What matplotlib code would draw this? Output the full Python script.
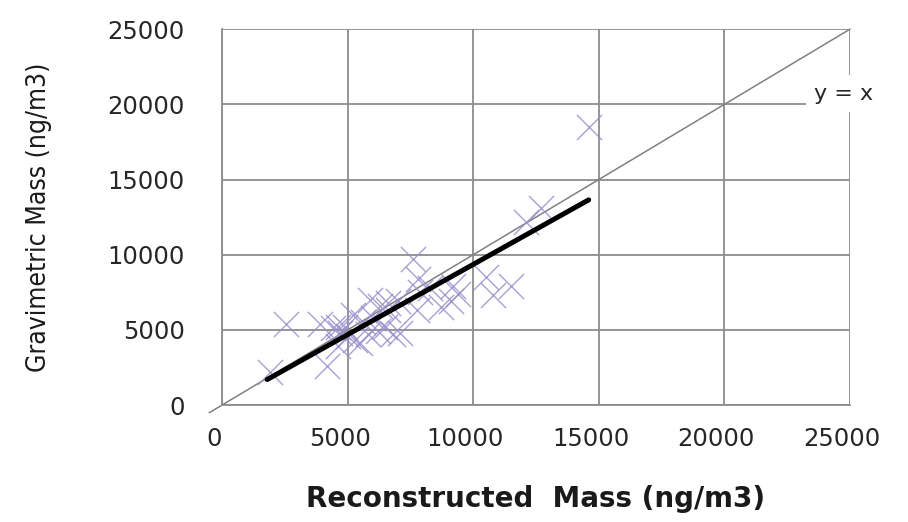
import numpy as np
import matplotlib
matplotlib.use("Agg")
import matplotlib.pyplot as plt
import matplotlib.transforms as mtransforms

# reconstructed vs gravimetric mass, ng/m3
recon = [1900, 2550, 4200, 3900, 4400, 4600, 4700, 4900, 5000, 5300, 5500,
         5800, 6200, 6000, 6300, 6600, 6800, 7000, 5600, 4600, 6500, 5900,
         6600, 7100, 7750, 7600, 7800, 7900, 8700, 9100, 9400, 8300, 10800,
         11500, 10500, 9200, 12100, 12700, 14600, 5200]
grav = [2200, 5400, 2600, 5400, 5100, 5200, 4800, 5200, 4600, 4300, 4100,
        4700, 4900, 5800, 6600, 6300, 4700, 6900, 5500, 3900, 5200, 7000,
        6800, 4800, 6300, 9700, 8400, 7500, 6500, 6900, 7400, 7800, 7300,
        7900, 8500, 7900, 12200, 13100, 18500, 6000]

# regression line end points
fit_x = [1800, 14600]
fit_y = [1700, 13650]

ticks = [0, 5000, 10000, 15000, 20000, 25000]

fig = plt.figure(figsize=(9.08, 5.22), dpi=100)
ax = fig.add_axes([0.2445, 0.224, 0.6915, 0.72])

ax.set_xlim(0, 25000)
ax.set_ylim(0, 25000)
ax.set_xticks(ticks)
ax.set_yticks(ticks)
ax.grid(True, color="#8c8c8c", linewidth=1.3)
ax.set_axisbelow(True)
for side in ["top", "right"]:
    ax.spines[side].set_visible(False)
for side in ["left", "bottom"]:
    ax.spines[side].set_color("#8c8c8c")
    ax.spines[side].set_linewidth(1.3)
ax.tick_params(length=0, labelsize=17.5, colors="#262626")
ax.tick_params(axis="x", pad=16)
ax.tick_params(axis="y", pad=27)

# x tick labels sit a bit left of their gridlines in the original
shift = mtransforms.ScaledTranslation(-8 / 100, 0, fig.dpi_scale_trans)
for lab in ax.get_xticklabels():
    lab.set_transform(lab.get_transform() + shift)

# 1:1 line
ax.plot([-500, 25000], [-500, 25000], color="#808080", linewidth=1.1,
        clip_on=False, zorder=2)
ax.text(24750, 20700, "y = x", fontsize=16, color="#262626",
        ha="center", va="center", zorder=5,
        bbox=dict(facecolor="white", edgecolor="none", pad=6))

ax.scatter(recon, grav, marker="x", s=330, linewidths=1.0,
           color="#9a8fcc", alpha=0.85, zorder=3)
ax.plot(fit_x, fit_y, color="black", linewidth=3.6,
        solid_capstyle="round", zorder=4)

ax.set_xlabel("Reconstructed  Mass (ng/m3)", fontsize=20, fontweight="bold",
              color="#1a1a1a", labelpad=24)
ax.set_ylabel("Gravimetric Mass (ng/m3)", fontsize=19, color="#1a1a1a",
              family="DejaVu Sans", fontstretch="condensed", labelpad=40)

fig.savefig("out.png", dpi=100)
